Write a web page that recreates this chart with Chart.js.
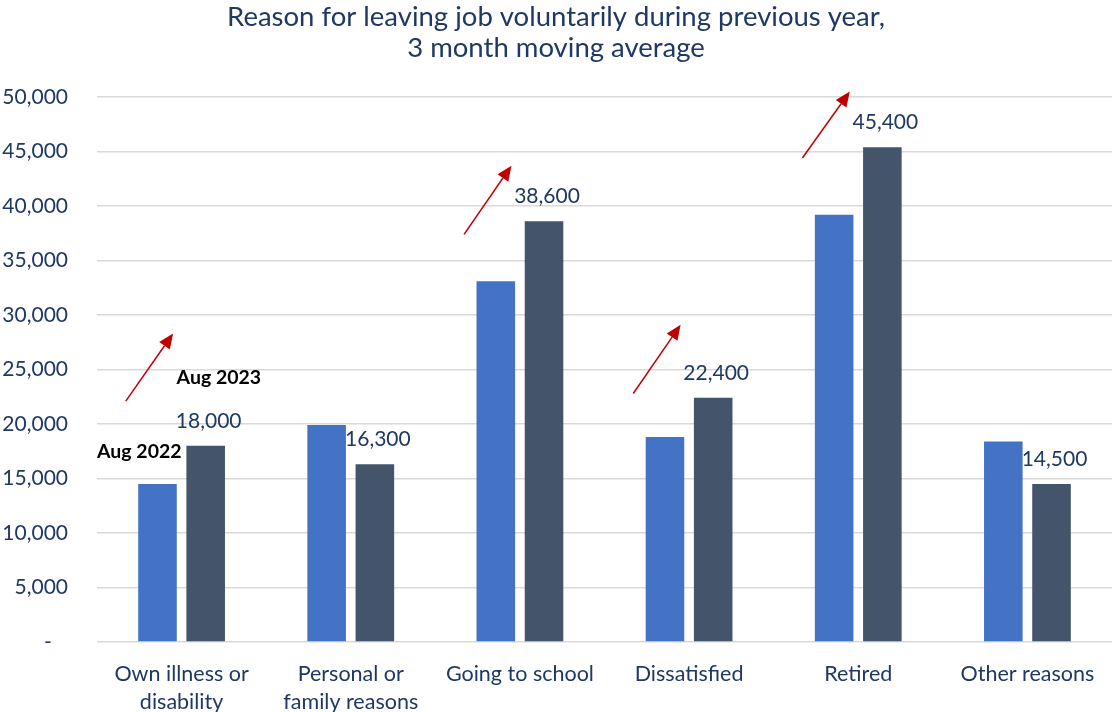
<!DOCTYPE html>
<html>
<head>
<meta charset="utf-8">
<script src="https://cdn.jsdelivr.net/npm/chart.js@4.4.0/dist/chart.umd.min.js"></script>
<style>
  html, body { margin: 0; padding: 0; background: #fff; }
  #wrap { width: 1112px; height: 712px; }
</style>
</head>
<body>
<div id="wrap"><canvas id="showChart"></canvas></div>
<script>
var categories = [['Own illness or', 'disability'], ['Personal or', 'family reasons'], 'Going to school', 'Dissatisfied', 'Retired', 'Other reasons'];
var aug2022 = [14500, 19900, 33100, 18800, 39200, 18400];
var aug2023 = [18000, 16300, 38600, 22400, 45400, 14500];
var seriesNames = ['Aug 2022', 'Aug 2023'];
// red "up" arrows: start / tip values per category (null = no arrow)
var arrowFrom = [22100, null, 37400, 22800, 44400, null];
var arrowTo = [28300, null, 43700, 29100, 50500, null];

var navy = '#1F3864';
var fontFamily = 'Lato, "Open Sans", sans-serif';

var overlay = {
    id: 'overlay',
    afterDatasetsDraw: function (chart) {
        var ctx = chart.ctx;
        var xs = chart.scales.x, ys = chart.scales.y;
        var catW = xs.width / categories.length;
        var m0 = chart.getDatasetMeta(0), m1 = chart.getDatasetMeta(1);
        ctx.save();

        // value labels on Aug 2023 bars
        ctx.fillStyle = navy;
        ctx.font = '21px ' + fontFamily;
        ctx.textAlign = 'center';
        ctx.textBaseline = 'middle';
        m1.data.forEach(function (bar, i) {
            ctx.fillText(aug2023[i].toLocaleString('en-US'), bar.x + 3, bar.y - 25);
        });

        // series labels next to first group
        ctx.fillStyle = '#000';
        ctx.font = 'bold 19.5px ' + fontFamily;
        var b0 = m0.data[0], b1 = m1.data[0];
        ctx.textAlign = 'right';
        ctx.fillText(seriesNames[0], xs.getPixelForValue(0), b0.y - 32);
        ctx.textAlign = 'left';
        ctx.fillText(seriesNames[1], xs.getPixelForValue(0) - 5, b1.y - 68);

        // arrows
        ctx.strokeStyle = '#C00000';
        ctx.fillStyle = '#C00000';
        ctx.lineWidth = 1.5;
        arrowFrom.forEach(function (v, i) {
            if (v === null) return;
            var cx = xs.getPixelForValue(i);
            var sx = cx - 0.33 * catW, ex = cx - 0.05 * catW;
            var sy = ys.getPixelForValue(v), ey = ys.getPixelForValue(arrowTo[i]);
            var ang = Math.atan2(ey - sy, ex - sx);
            var hl = 15, hw = 6.5;
            var bx = ex - hl * Math.cos(ang), by = ey - hl * Math.sin(ang);
            ctx.beginPath();
            ctx.moveTo(sx, sy);
            ctx.lineTo(bx, by);
            ctx.stroke();
            ctx.beginPath();
            ctx.moveTo(ex, ey);
            ctx.lineTo(bx + hw * Math.sin(ang), by - hw * Math.cos(ang));
            ctx.lineTo(bx - hw * Math.sin(ang), by + hw * Math.cos(ang));
            ctx.closePath();
            ctx.fill();
        });
        ctx.restore();
    }
};

var ctx = document.getElementById('showChart').getContext('2d');
var showChart = new Chart(ctx, {
    type: 'bar',
    data: {
        labels: categories,
        datasets: [
            { label: seriesNames[0], data: aug2022, backgroundColor: '#4472C4' },
            { label: seriesNames[1], data: aug2023, backgroundColor: '#44546A' }
        ]
    },
    options: {
        responsive: true,
        maintainAspectRatio: false,
        animation: false,
        layout: { padding: { left: 0, right: 0, top: 2, bottom: 0 } },
        datasets: { bar: { categoryPercentage: 0.57, barPercentage: 0.8 } },
        scales: {
            y: {
                min: 0,
                max: 50000,
                afterFit: function (s) { s.width = 97; },
                ticks: {
                    stepSize: 5000,
                    padding: 29,
                    color: navy,
                    font: { family: fontFamily, size: 21 },
                    callback: function (v) { return v === 0 ? '-   ' : v.toLocaleString('en-US'); }
                },
                grid: { color: '#D9D9D9', lineWidth: 1.5, tickLength: 0, drawTicks: false },
                border: { display: false }
            },
            x: {
                afterFit: function (s) { s.height = 70; },
                ticks: {
                    padding: 10,
                    color: navy,
                    maxRotation: 0,
                    autoSkip: false,
                    font: { family: fontFamily, size: 21.5, lineHeight: 1.3 }
                },
                grid: { display: false },
                border: { display: false }
            }
        },
        plugins: {
            legend: { display: false },
            tooltip: { enabled: false },
            title: {
                display: true,
                text: ['Reason for leaving job voluntarily during previous year,', '3 month moving average'],
                color: navy,
                font: { family: fontFamily, size: 27.5, weight: 'normal', lineHeight: 1.127 },
                padding: { top: 0, bottom: 33 }
            }
        }
    },
    plugins: [overlay]
});
</script>
</body>
</html>
